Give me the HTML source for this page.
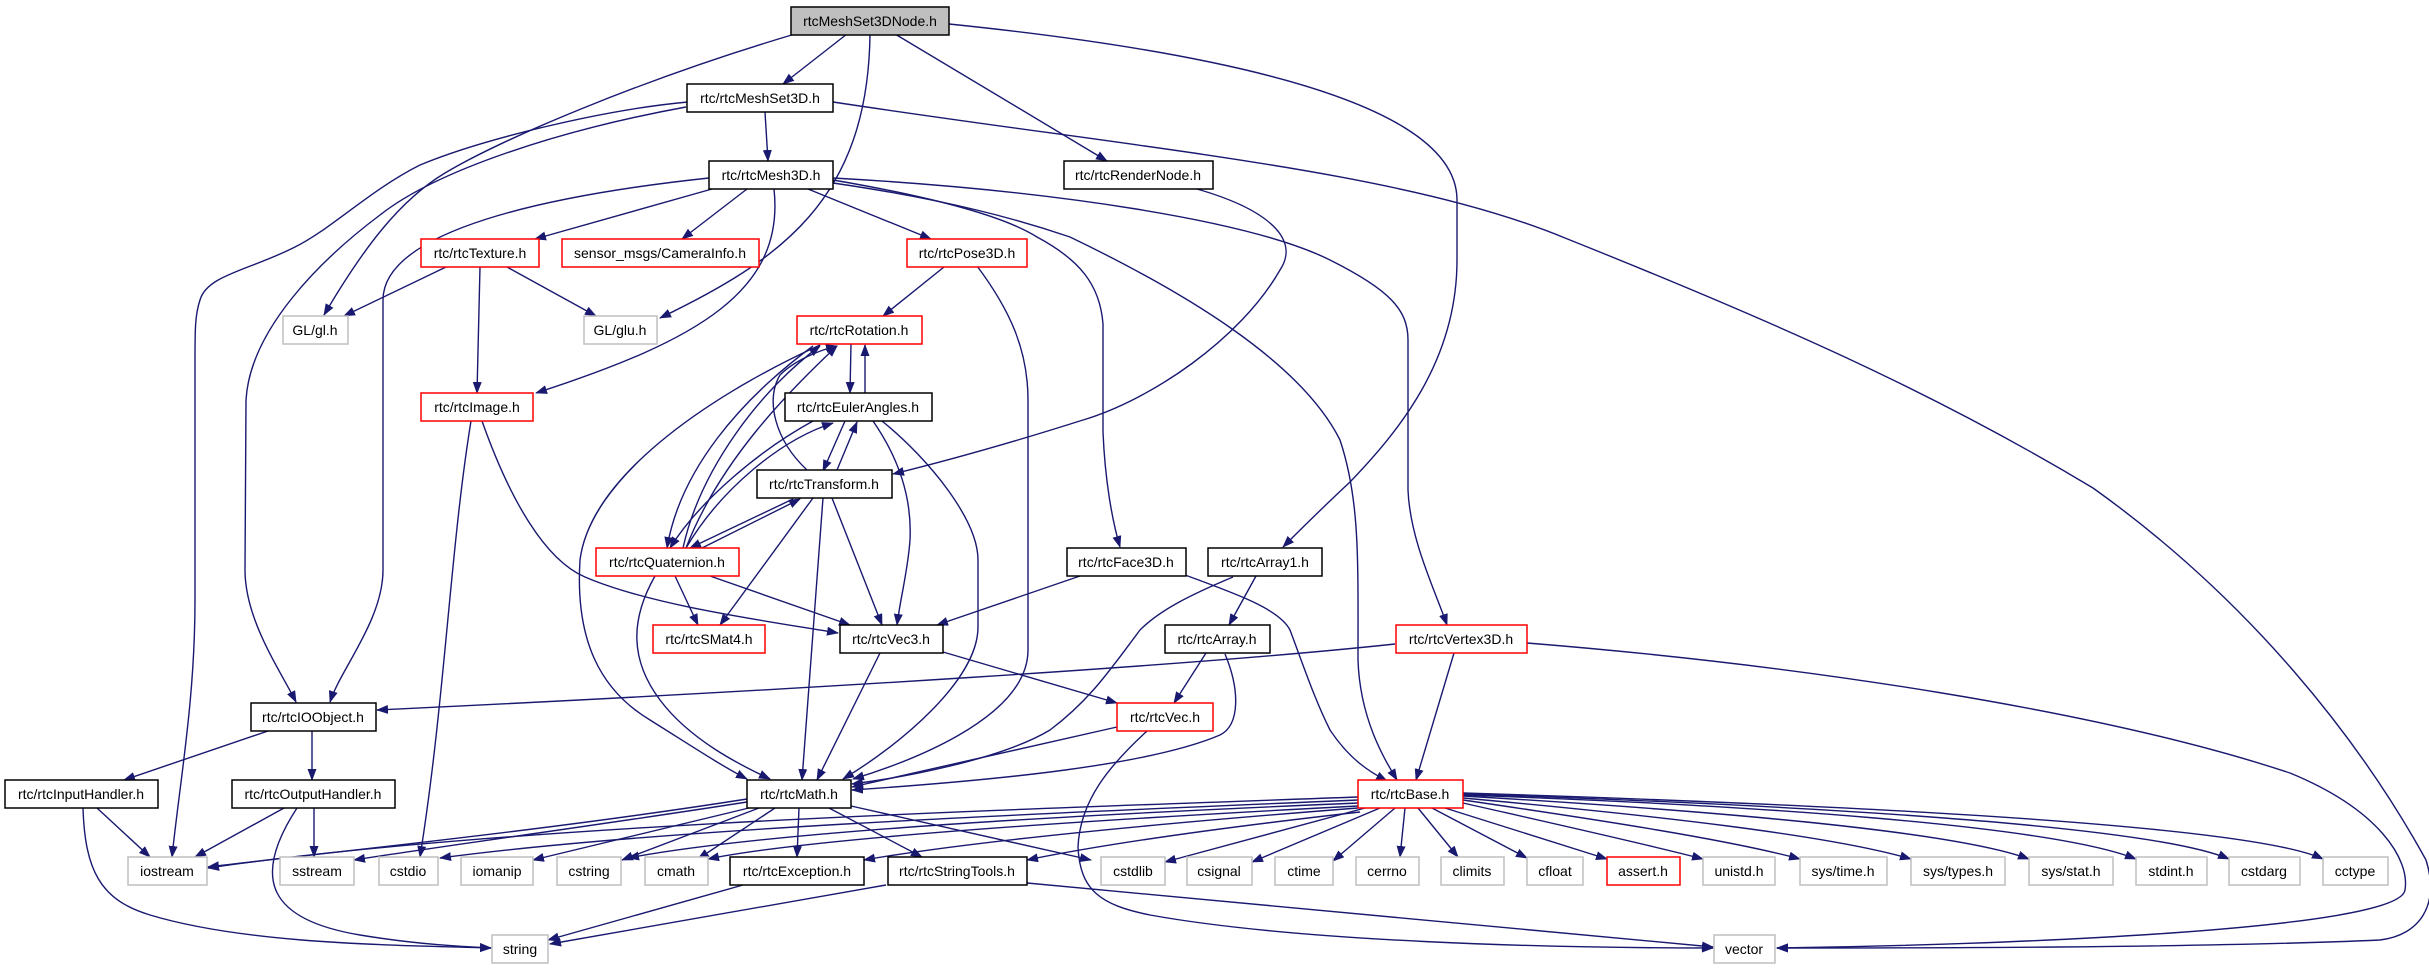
<!DOCTYPE html>
<html><head><meta charset="utf-8"><style>
html,body{margin:0;padding:0;background:#fff;}
svg{display:block;}
text{font-family:"Liberation Sans",sans-serif;font-size:14px;fill:#000;text-anchor:middle;dominant-baseline:central;}
.e{fill:none;stroke:#191970;stroke-width:1.4;marker-end:url(#ah);}
.b{fill:#fff;stroke:#000;stroke-width:1.5;}
.r{fill:#fff;stroke:#ff0000;stroke-width:1.5;}
.g{fill:#fff;stroke:#bfbfbf;stroke-width:1.5;}
.n{fill:#bfbfbf;stroke:#000;stroke-width:1.5;}
</style></head><body>
<svg width="2429" height="968" viewBox="0 0 2429 968" xmlns="http://www.w3.org/2000/svg">
<defs><marker id="ah" markerUnits="userSpaceOnUse" markerWidth="12" markerHeight="10" refX="11" refY="4.5" orient="auto"><path d="M0,0 L12,4.5 L0,9 z" fill="#191970"/></marker></defs>

<g>
<path class="e" d="M847,34 L783,84"/>
<path class="e" d="M895,34 L1107,161"/>
<path class="e" d="M795,34 C640,80 500,140 445,173 C400,200 364,247 324,315"/>
<path class="e" d="M870,34 C868,200 780,260 660,318"/>
<path class="e" d="M949,24 C1300,60 1457,120 1457,200 L1457,260 C1457,360 1400,430 1350,482 C1320,510 1300,530 1283,547"/>

<path class="e" d="M765,112 L768,161"/>
<path class="e" d="M688,102 C600,110 480,140 420,165 C370,190 330,230 295,247 C250,270 207,275 200,300 C195,315 195,330 195,360 L195,600 C195,700 180,780 172,857"/>
<path class="e" d="M686,107 C560,130 437,170 380,215 C320,260 250,330 246,400 L245,570 C245,620 280,670 296,702"/>
<path class="e" d="M833,102 C1150,150 1400,170 1565,238 C1770,320 1930,390 2093,488 C2250,600 2360,740 2426,860 C2440,905 2420,935 2380,940 C2200,948 1900,948 1777,948"/>

<path class="e" d="M709,178 C550,195 383,230 383,300 L383,570 C383,620 340,670 330,702"/>
<path class="e" d="M712,189 L535,239"/>
<path class="e" d="M747,189 L682,239"/>
<path class="e" d="M774,189 C785,290 700,340 536,393"/>
<path class="e" d="M808,189 L931,239"/>
<path class="e" d="M833,180 C950,200 1010,220 1037,237 C1080,260 1100,285 1103,324 L1103,432 C1105,480 1112,520 1120,547"/>
<path class="e" d="M833,183 C950,200 1020,220 1070,237 C1180,290 1300,360 1340,440 C1360,500 1358,560 1358,660 C1360,720 1385,760 1397,780"/>
<path class="e" d="M833,178 C1050,190 1250,220 1330,260 C1390,290 1408,310 1408,340 L1408,490 C1410,540 1435,590 1447,625"/>

<path class="e" d="M446,267 L344,316"/>
<path class="e" d="M507,267 L596,316"/>
<path class="e" d="M480,267 L477,393"/>

<path class="e" d="M944,267 L883,316"/>
<path class="e" d="M977,266 C1010,310 1028,350 1028,400 L1028,650 C1028,720 900,765 853,779"/>

<path class="e" d="M851,344 L850,393"/>
<path class="e" d="M865,393 L865,345"/>
<path class="e" d="M813,346 C740,400 680,470 667,548"/>
<path class="e" d="M683,548 C700,470 760,390 820,346"/>
<path class="e" d="M686,548 C720,460 790,390 837,346"/>
<path class="e" d="M820,345 C700,400 590,480 580,560 C575,640 600,690 650,720 C690,745 720,765 747,779"/>

<path class="e" d="M807,470 C775,440 765,400 780,375 C795,360 820,350 837,346"/>
<path class="e" d="M845,421 L823,471"/>
<path class="e" d="M837,470 L857,422"/>
<path class="e" d="M813,421 C760,450 700,500 670,548"/>
<path class="e" d="M686,548 C720,490 780,440 833,423"/>
<path class="e" d="M793,499 L690,548"/>
<path class="e" d="M702,548 L800,499"/>
<path class="e" d="M813,498 L720,625"/>
<path class="e" d="M823,498 L802,780"/>
<path class="e" d="M832,498 L882,625"/>

<path class="e" d="M873,421 C900,460 912,500 910,540 C908,570 900,600 897,625"/>
<path class="e" d="M882,421 C930,460 978,520 978,560 L978,627 C978,680 900,745 843,779"/>

<path class="e" d="M655,576 C630,620 630,660 660,700 C690,740 740,765 770,779"/>
<path class="e" d="M675,576 L698,625"/>
<path class="e" d="M710,576 L850,625"/>

<path class="e" d="M471,421 C450,550 445,700 420,857"/>
<path class="e" d="M482,421 C510,500 545,560 585,577 C650,605 760,620 838,633"/>

<path class="e" d="M1080,576 L937,625"/>
<path class="e" d="M1185,575 C1240,595 1280,610 1290,630 C1305,670 1315,700 1330,730 C1350,760 1370,772 1387,781"/>

<path class="e" d="M1256,576 L1229,625"/>
<path class="e" d="M1233,577 C1190,595 1160,610 1140,630 C1110,670 1090,700 1050,730 C1000,760 900,778 852,784"/>

<path class="e" d="M1206,653 L1174,703"/>
<path class="e" d="M1225,654 C1240,690 1240,725 1220,735 C1150,765 1000,780 852,790"/>

<path class="e" d="M880,653 L817,780"/>
<path class="e" d="M943,652 L1117,703"/>

<path class="e" d="M1117,727 L852,787"/>
<path class="e" d="M1147,731 C1110,765 1080,800 1078,847 C1080,890 1100,905 1150,915 C1300,942 1550,948 1713,948"/>

<path class="e" d="M1395,644 C1200,665 800,690 377,710"/>
<path class="e" d="M1454,653 L1416,780"/>
<path class="e" d="M1527,643 C1800,665 2100,710 2290,773 C2380,810 2410,860 2405,890 C2400,930 2000,945 1777,948"/>

<path class="e" d="M1197,189 C1270,210 1300,240 1280,270 C1240,340 1150,400 1083,420 C1020,440 950,460 893,474"/>

<path class="e" d="M268,731 L124,780"/>
<path class="e" d="M312,731 L312,780"/>

<path class="e" d="M97,808 L150,857"/>
<path class="e" d="M83,808 C85,870 100,900 150,915 C250,945 400,945 491,948"/>
<path class="e" d="M284,808 L195,857"/>
<path class="e" d="M314,808 L314,857"/>
<path class="e" d="M297,808 C250,880 270,920 360,935 C420,945 470,947 491,948"/>

<path class="e" d="M747,799 C550,830 350,850 208,867"/>
<path class="e" d="M747,802 C600,825 450,845 354,860"/>
<path class="e" d="M753,807 L533,860"/>
<path class="e" d="M759,808 L622,860"/>
<path class="e" d="M775,808 L698,859"/>
<path class="e" d="M799,808 L797,857"/>
<path class="e" d="M829,808 L922,857"/>
<path class="e" d="M851,806 L1091,860"/>

<path class="e" d="M1358,797 C1000,810 500,825 208,868"/>
<path class="e" d="M1358,800 C1000,815 650,830 440,858"/>
<path class="e" d="M1358,803 C1000,818 750,835 628,858"/>
<path class="e" d="M1358,806 C1050,822 800,840 708,859"/>
<path class="e" d="M1358,808 C1100,828 950,845 864,860"/>
<path class="e" d="M1360,812 C1200,830 1100,845 1027,860"/>
<path class="e" d="M1365,808 L1165,862"/>
<path class="e" d="M1380,808 L1252,862"/>
<path class="e" d="M1395,808 L1333,861"/>
<path class="e" d="M1405,808 L1400,857"/>
<path class="e" d="M1418,808 L1458,857"/>
<path class="e" d="M1432,808 L1527,858"/>
<path class="e" d="M1445,808 L1607,859"/>
<path class="e" d="M1463,803 C1560,825 1650,845 1703,859"/>
<path class="e" d="M1463,800 C1600,820 1730,840 1800,859"/>
<path class="e" d="M1463,798 C1650,815 1830,835 1911,859"/>
<path class="e" d="M1463,796 C1700,810 1950,830 2029,859"/>
<path class="e" d="M1463,795 C1750,805 2050,825 2136,859"/>
<path class="e" d="M1463,794 C1800,805 2150,825 2229,859"/>
<path class="e" d="M1463,793 C1850,805 2250,825 2323,859"/>

<path class="e" d="M743,885 L548,940"/>
<path class="e" d="M886,885 L550,944"/>
<path class="e" d="M1027,883 L1713,947"/>
</g>

<g>
<rect class="n" x="791" y="7" width="158" height="28"/><text x="870" y="21">rtcMeshSet3DNode.h</text>
<rect class="b" x="687" y="84" width="146" height="28"/><text x="760" y="98">rtc/rtcMeshSet3D.h</text>
<rect class="b" x="709" y="161" width="124" height="28"/><text x="771" y="175">rtc/rtcMesh3D.h</text>
<rect class="b" x="1064" y="161" width="149" height="28"/><text x="1138" y="175">rtc/rtcRenderNode.h</text>
<rect class="r" x="421" y="239" width="118" height="28"/><text x="480" y="253">rtc/rtcTexture.h</text>
<rect class="r" x="562" y="239" width="197" height="28"/><text x="660" y="253">sensor_msgs/CameraInfo.h</text>
<rect class="r" x="907" y="239" width="120" height="28"/><text x="967" y="253">rtc/rtcPose3D.h</text>
<rect class="g" x="283" y="316" width="65" height="28"/><text x="315" y="330">GL/gl.h</text>
<rect class="g" x="584" y="316" width="73" height="28"/><text x="620" y="330">GL/glu.h</text>
<rect class="r" x="797" y="316" width="125" height="28"/><text x="859" y="330">rtc/rtcRotation.h</text>
<rect class="r" x="421" y="393" width="112" height="28"/><text x="477" y="407">rtc/rtcImage.h</text>
<rect class="b" x="785" y="393" width="147" height="28"/><text x="858" y="407">rtc/rtcEulerAngles.h</text>
<rect class="b" x="757" y="470" width="135" height="28"/><text x="824" y="484">rtc/rtcTransform.h</text>
<rect class="r" x="596" y="548" width="143" height="28"/><text x="667" y="562">rtc/rtcQuaternion.h</text>
<rect class="b" x="1067" y="548" width="119" height="28"/><text x="1126" y="562">rtc/rtcFace3D.h</text>
<rect class="b" x="1208" y="548" width="114" height="28"/><text x="1265" y="562">rtc/rtcArray1.h</text>
<rect class="r" x="653" y="625" width="112" height="28"/><text x="709" y="639">rtc/rtcSMat4.h</text>
<rect class="b" x="840" y="625" width="103" height="28"/><text x="891" y="639">rtc/rtcVec3.h</text>
<rect class="b" x="1165" y="625" width="105" height="28"/><text x="1217" y="639">rtc/rtcArray.h</text>
<rect class="r" x="1396" y="625" width="131" height="28"/><text x="1461" y="639">rtc/rtcVertex3D.h</text>
<rect class="b" x="251" y="703" width="125" height="28"/><text x="313" y="717">rtc/rtcIOObject.h</text>
<rect class="r" x="1117" y="703" width="96" height="28"/><text x="1165" y="717">rtc/rtcVec.h</text>
<rect class="b" x="5" y="780" width="153" height="28"/><text x="81" y="794">rtc/rtcInputHandler.h</text>
<rect class="b" x="232" y="780" width="163" height="28"/><text x="313" y="794">rtc/rtcOutputHandler.h</text>
<rect class="b" x="747" y="780" width="104" height="28"/><text x="799" y="794">rtc/rtcMath.h</text>
<rect class="r" x="1358" y="780" width="105" height="28"/><text x="1410" y="794">rtc/rtcBase.h</text>

<rect class="g" x="128" y="857" width="79" height="28"/><text x="167" y="871">iostream</text>
<rect class="g" x="280" y="857" width="74" height="28"/><text x="317" y="871">sstream</text>
<rect class="g" x="379" y="857" width="59" height="28"/><text x="408" y="871">cstdio</text>
<rect class="g" x="461" y="857" width="72" height="28"/><text x="497" y="871">iomanip</text>
<rect class="g" x="557" y="857" width="64" height="28"/><text x="589" y="871">cstring</text>
<rect class="g" x="645" y="857" width="63" height="28"/><text x="676" y="871">cmath</text>
<rect class="b" x="730" y="857" width="134" height="28"/><text x="797" y="871">rtc/rtcException.h</text>
<rect class="b" x="888" y="857" width="139" height="28"/><text x="957" y="871">rtc/rtcStringTools.h</text>
<rect class="g" x="1101" y="857" width="64" height="28"/><text x="1133" y="871">cstdlib</text>
<rect class="g" x="1187" y="857" width="65" height="28"/><text x="1219" y="871">csignal</text>
<rect class="g" x="1275" y="857" width="58" height="28"/><text x="1304" y="871">ctime</text>
<rect class="g" x="1356" y="857" width="63" height="28"/><text x="1387" y="871">cerrno</text>
<rect class="g" x="1441" y="857" width="63" height="28"/><text x="1472" y="871">climits</text>
<rect class="g" x="1527" y="857" width="56" height="28"/><text x="1555" y="871">cfloat</text>
<rect class="r" x="1607" y="857" width="73" height="28"/><text x="1643" y="871">assert.h</text>
<rect class="g" x="1703" y="857" width="72" height="28"/><text x="1739" y="871">unistd.h</text>
<rect class="g" x="1800" y="857" width="87" height="28"/><text x="1843" y="871">sys/time.h</text>
<rect class="g" x="1911" y="857" width="94" height="28"/><text x="1958" y="871">sys/types.h</text>
<rect class="g" x="2029" y="857" width="84" height="28"/><text x="2071" y="871">sys/stat.h</text>
<rect class="g" x="2136" y="857" width="71" height="28"/><text x="2171" y="871">stdint.h</text>
<rect class="g" x="2229" y="857" width="71" height="28"/><text x="2264" y="871">cstdarg</text>
<rect class="g" x="2323" y="857" width="65" height="28"/><text x="2355" y="871">cctype</text>
<rect class="g" x="492" y="935" width="56" height="28"/><text x="520" y="949">string</text>
<rect class="g" x="1714" y="935" width="61" height="28"/><text x="1744" y="949">vector</text>
</g>
</svg>
</body></html>
